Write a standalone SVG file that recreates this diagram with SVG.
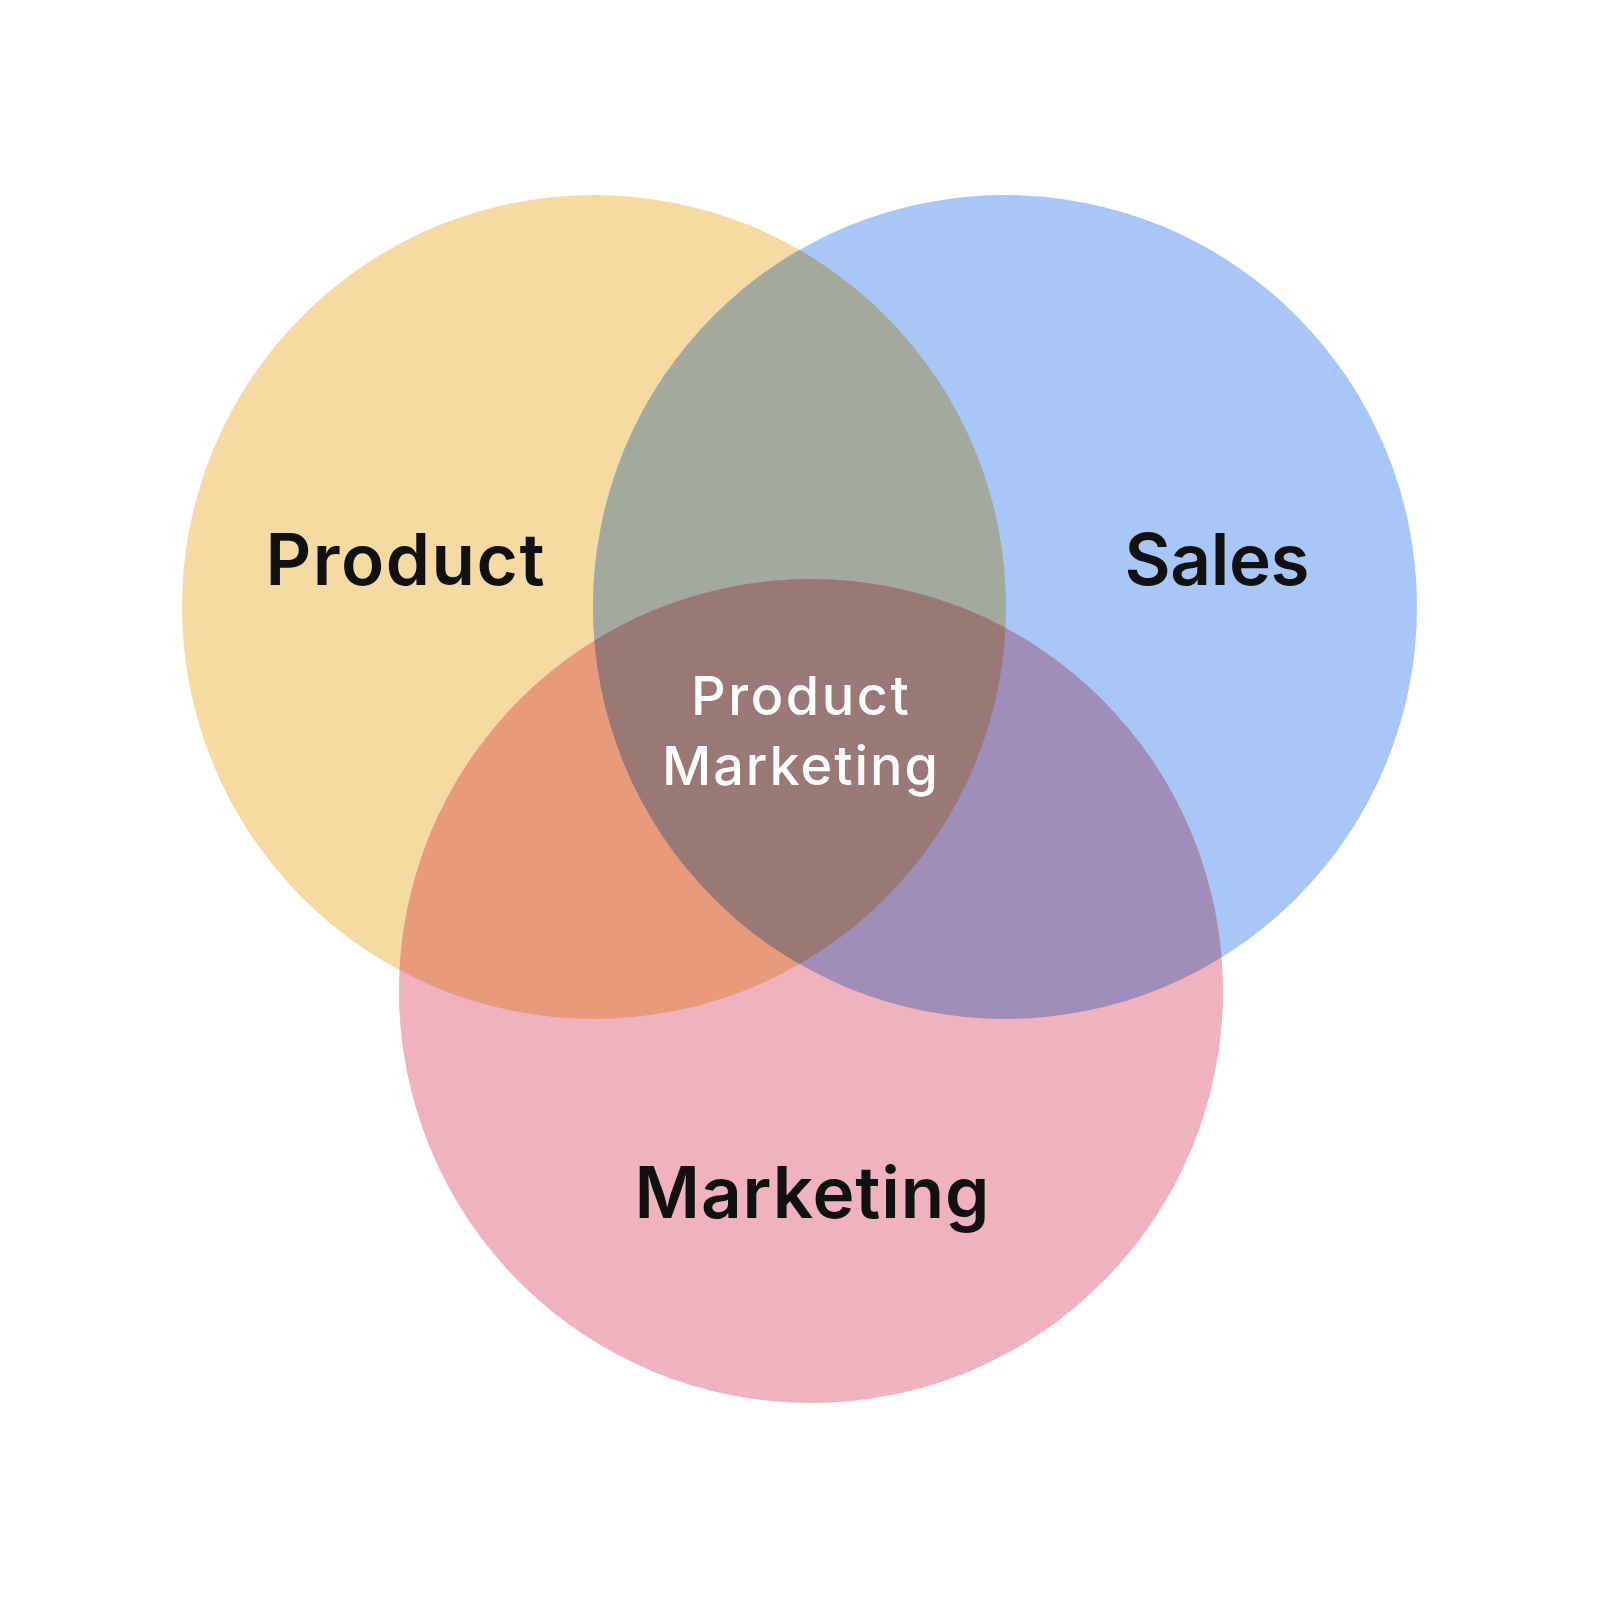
<svg xmlns="http://www.w3.org/2000/svg" width="1600" height="1600" viewBox="0 0 1600 1600">
  <defs>
    <clipPath id="clipY"><circle cx="594" cy="607" r="412"/></clipPath>
    <clipPath id="clipB"><circle cx="1005" cy="607" r="412"/></clipPath>
    <style>
      .lbl { font-family: Inter, "Liberation Sans", sans-serif; font-weight: 600; font-size: 71px; fill: #111111; text-anchor: middle; }
      .mid { font-family: Inter, "Liberation Sans", sans-serif; font-weight: 500; font-size: 54px; fill: #ffffff; text-anchor: middle; }
    </style>
  </defs>
  <rect width="1600" height="1600" fill="#ffffff"/>
  <g id="product">
    <circle cx="594" cy="607" r="412" fill="#F5DBA2"/>
  </g>
  <g id="sales">
    <circle cx="1005" cy="607" r="412" fill="#A8C6F7"/>
  </g>
  <g id="marketing">
    <circle cx="811" cy="991" r="412" fill="#F0B2BE"/>
  </g>
  <g id="overlaps">
    <circle cx="1005" cy="607" r="412" fill="#A3AA9D" clip-path="url(#clipY)"/>
    <circle cx="811" cy="991" r="412" fill="#E89B7A" clip-path="url(#clipY)"/>
    <circle cx="811" cy="991" r="412" fill="#A08DBA" clip-path="url(#clipB)"/>
    <g clip-path="url(#clipB)">
      <circle cx="811" cy="991" r="412" fill="#997875" clip-path="url(#clipY)"/>
    </g>
  </g>
  <g id="labels">
    <text class="lbl" x="405" y="585" textLength="279" lengthAdjust="spacing">Product</text>
    <text class="lbl" x="1217" y="585" textLength="185" lengthAdjust="spacing">Sales</text>
    <text class="lbl" x="812" y="1218" textLength="355" lengthAdjust="spacing">Marketing</text>
    <text class="mid" x="800" y="715" textLength="218" lengthAdjust="spacing">Product</text>
    <text class="mid" x="800" y="785" textLength="276" lengthAdjust="spacing">Marketing</text>
  </g>
</svg>
